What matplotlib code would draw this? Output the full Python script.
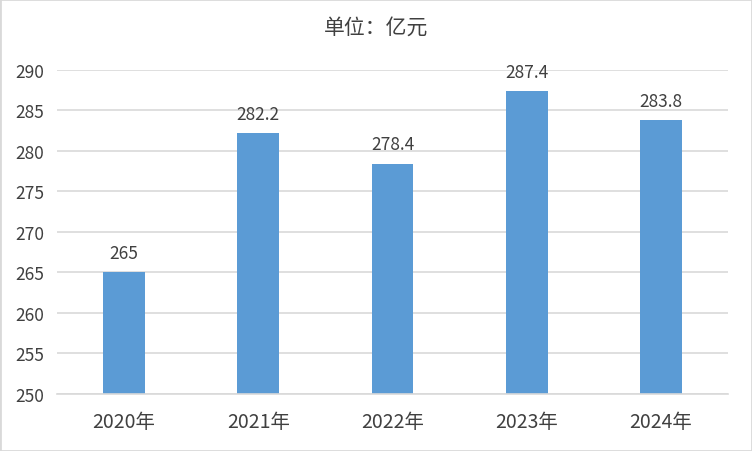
import matplotlib.pyplot as plt
from matplotlib.patches import Rectangle

plt.rcParams['font.family'] = ['Noto Sans CJK SC', 'DejaVu Sans']

years = ["2020年", "2021年", "2022年", "2023年", "2024年"]
values = [265, 282.2, 278.4, 287.4, 283.8]
value_labels = ["265", "282.2", "278.4", "287.4", "283.8"]
yticks = [250, 255, 260, 265, 270, 275, 280, 285, 290]

fig = plt.figure(figsize=(7.52, 4.52), dpi=100)
ax = fig.add_axes([57 / 752, (452 - 395) / 452, 671 / 752, 324 / 452])

x = range(len(years))
ax.bar(x, values, width=0.31, color="#5B9BD5", zorder=2)
for i, v in enumerate(values):
    ax.text(i, v + 1.3, value_labels[i], ha="center", va="bottom",
            fontsize=12.5, color="#404040")

ax.set_xlim(-0.5, len(years) - 0.5)
ax.set_ylim(250, 290)
ax.set_yticks(yticks)
ax.set_xticks(list(x))
ax.set_xticklabels(years)
ax.yaxis.grid(True, color="#D9D9D9", linewidth=1.2, zorder=0)
ax.tick_params(axis="both", length=0, labelcolor="#404040")
ax.tick_params(axis="x", pad=12, labelsize=14)
ax.tick_params(axis="y", pad=9, labelsize=12.5)
for s in ["top", "right", "left"]:
    ax.spines[s].set_visible(False)
ax.spines["bottom"].set_color("#D9D9D9")
ax.spines["bottom"].set_linewidth(1.2)

fig.text(0.5, 1 - 28 / 452, "单位：亿元", ha="center", va="center",
         fontsize=15, color="#404040")

fig.patches.append(Rectangle((0, 0), 1, 1, transform=fig.transFigure,
                             fill=False, edgecolor="#D9D9D9", linewidth=2))

fig.savefig("out.png", dpi=100)
